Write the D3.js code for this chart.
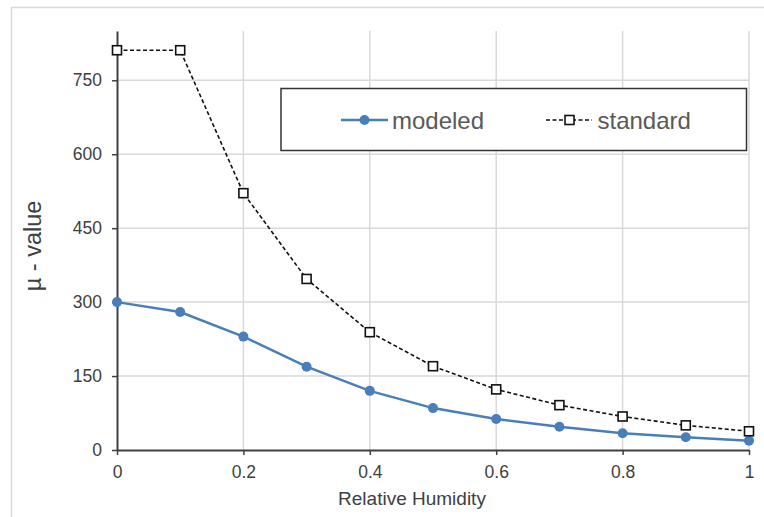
<!DOCTYPE html>
<html>
<head>
<meta charset="utf-8">
<script src="https://cdn.jsdelivr.net/npm/d3@7"></script>
<style>
	body { margin: 0; background: #fff; }
	svg { display: block; font-family: "Liberation Sans", Arial, sans-serif; }
</style>
</head>
<body>
<script>
// Chart data
const humidity = [0, 0.1, 0.2, 0.3, 0.4, 0.5, 0.6, 0.7, 0.8, 0.9, 1];
const modeled = [300, 280, 230, 169, 120, 85, 63, 47, 34, 26, 19];
const standard = [811, 811, 521, 347, 239, 170, 123, 91, 68, 50, 38];
const xTicks = [0, 0.2, 0.4, 0.6, 0.8, 1];
const yTicks = [0, 150, 300, 450, 600, 750];
const seriesNames = ["modeled", "standard"];

const w = 764;
const h = 517;
const margin = { top: 31, right: 15, bottom: 67, left: 117 };

const svg = d3.select("body").append("svg").attr("width", w).attr("height", h);

// Outer chart border (cropped by the picture on the right and bottom)
svg.append("rect")
	.attr("x", 11.5)
	.attr("y", 7.5)
	.attr("width", 800)
	.attr("height", 600)
	.attr("fill", "none")
	.attr("stroke", "#d9d9d9")
	.attr("stroke-width", 1.5);

const xScale = d3.scaleLinear().domain([0, 1]).range([margin.left, w - margin.right]);
const yScale = d3.scaleLinear().domain([0, 850]).range([h - margin.bottom, margin.top]);

// Gridlines
svg.append("g")
	.selectAll("line")
	.data(yTicks.filter((d) => d > 0))
	.enter()
	.append("line")
	.attr("x1", xScale(0))
	.attr("x2", xScale(1))
	.attr("y1", (d) => yScale(d))
	.attr("y2", (d) => yScale(d))
	.attr("stroke", "#d9d9d9")
	.attr("stroke-width", 1.5);

svg.append("g")
	.selectAll("line")
	.data(xTicks.filter((d) => d > 0))
	.enter()
	.append("line")
	.attr("x1", (d) => xScale(d))
	.attr("x2", (d) => xScale(d))
	.attr("y1", yScale(850))
	.attr("y2", yScale(0))
	.attr("stroke", "#d9d9d9")
	.attr("stroke-width", 1.5);

// Axes
const xAxis = d3.axisBottom(xScale).tickValues(xTicks).tickSize(5).tickPadding(10.5).tickSizeOuter(0).tickFormat(d3.format("~g"));
const gx = svg.append("g").attr("transform", `translate(0, ${yScale(0)})`).call(xAxis);

const yAxis = d3.axisLeft(yScale).tickValues(yTicks).tickSize(5).tickPadding(10).tickSizeOuter(0);
const gy = svg.append("g").attr("transform", `translate(${xScale(0)}, 0)`).call(yAxis);

[gx, gy].forEach((g) => {
	g.select(".domain").attr("stroke", "#404040").attr("stroke-width", 2);
	g.selectAll(".tick line").attr("stroke", "#404040").attr("stroke-width", 1.5);
	g.selectAll(".tick text").attr("fill", "#404040").style("font-size", "17.5px");
});

// Axis titles
svg.append("text")
	.attr("x", 412)
	.attr("y", 505)
	.attr("text-anchor", "middle")
	.attr("fill", "#404040")
	.style("font-size", "19px")
	.text("Relative Humidity");

svg.append("text")
	.attr("transform", "translate(41, 246) rotate(-90)")
	.attr("text-anchor", "middle")
	.attr("fill", "#404040")
	.style("font-size", "23.5px")
	.text("µ - value");

// Lines
const line = d3.line()
	.x((d, i) => xScale(humidity[i]))
	.y((d) => yScale(d));

svg.append("path")
	.datum(standard)
	.attr("d", line)
	.attr("fill", "none")
	.attr("stroke", "#111")
	.attr("stroke-width", 1.6)
	.attr("stroke-dasharray", "4,2.5");

svg.append("path")
	.datum(modeled)
	.attr("d", line)
	.attr("fill", "none")
	.attr("stroke", "#4a7ebb")
	.attr("stroke-width", 2.5);

// Markers
svg.append("g")
	.selectAll("circle")
	.data(modeled)
	.enter()
	.append("circle")
	.attr("cx", (d, i) => xScale(humidity[i]))
	.attr("cy", (d) => yScale(d))
	.attr("r", 5)
	.attr("fill", "#4a7ebb");

svg.append("g")
	.selectAll("rect")
	.data(standard)
	.enter()
	.append("rect")
	.attr("x", (d, i) => xScale(humidity[i]) - 4.5)
	.attr("y", (d) => yScale(d) - 4.5)
	.attr("width", 9)
	.attr("height", 9)
	.attr("fill", "#fff")
	.attr("stroke", "#111")
	.attr("stroke-width", 1.6);

// Legend
const legend = svg.append("g").attr("id", "legend");

legend.append("rect")
	.attr("x", 281)
	.attr("y", 88.5)
	.attr("width", 465.5)
	.attr("height", 62)
	.attr("fill", "#fff")
	.attr("stroke", "#333")
	.attr("stroke-width", 1.5);

legend.append("line")
	.attr("x1", 341).attr("x2", 388)
	.attr("y1", 120).attr("y2", 120)
	.attr("stroke", "#4a7ebb")
	.attr("stroke-width", 2.5);

legend.append("circle")
	.attr("cx", 364.5).attr("cy", 120).attr("r", 5)
	.attr("fill", "#4a7ebb");

legend.append("text")
	.attr("x", 392)
	.attr("y", 128.5)
	.attr("fill", "#595959")
	.style("font-size", "24px")
	.text(seriesNames[0]);

legend.append("line")
	.attr("x1", 546).attr("x2", 592)
	.attr("y1", 120).attr("y2", 120)
	.attr("stroke", "#111")
	.attr("stroke-width", 1.6)
	.attr("stroke-dasharray", "4,2.5");

legend.append("rect")
	.attr("x", 565).attr("y", 115.5)
	.attr("width", 9).attr("height", 9)
	.attr("fill", "#fff")
	.attr("stroke", "#111")
	.attr("stroke-width", 1.6);

legend.append("text")
	.attr("x", 597.5)
	.attr("y", 128.5)
	.attr("fill", "#595959")
	.style("font-size", "24px")
	.text(seriesNames[1]);
</script>
</body>
</html>
